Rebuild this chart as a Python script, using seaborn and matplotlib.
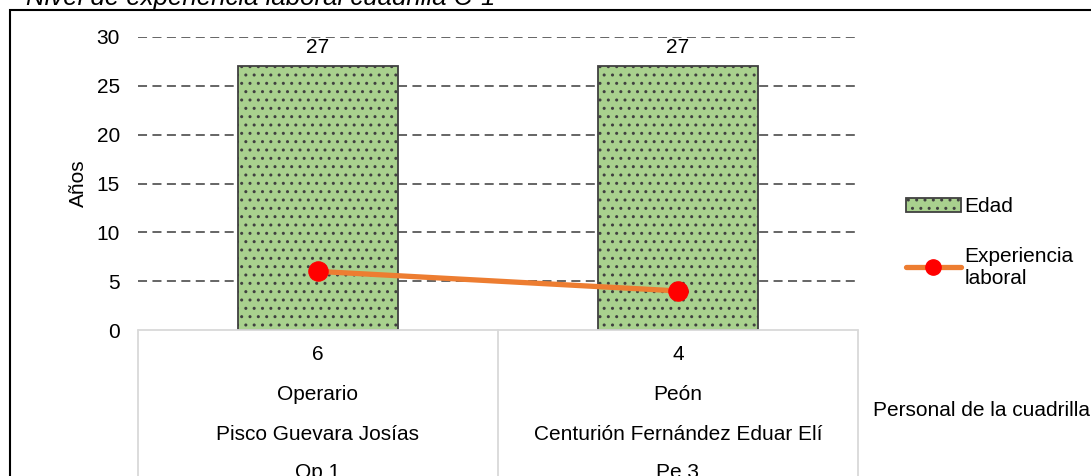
import numpy as np
import pandas as pd
import matplotlib
matplotlib.use("Agg")
import matplotlib.pyplot as plt
import seaborn as sns
from matplotlib.patches import Patch, Rectangle
from matplotlib.lines import Line2D
import matplotlib.transforms as mtransforms

# ---- data ----
codes = ["Op 1", "Pe 3"]
names = ["Pisco Guevara Josías", "Centurión Fernández Eduar Elí"]
roles = ["Operario", "Peón"]
edad = [27, 27]
experiencia = [6, 4]
yticks = [0, 5, 10, 15, 20, 25, 30]
title = "Nivel de experiencia laboral cuadrilla C-1"

sns.set_theme(style="white")
plt.rcParams['font.family'] = ['Liberation Sans', 'DejaVu Sans']
plt.rcParams['text.color'] = 'black'
plt.rcParams['axes.labelcolor'] = 'black'
plt.rcParams['ytick.color'] = 'black'
plt.rcParams['hatch.color'] = 'black'
plt.rcParams['hatch.linewidth'] = 1.0

FS = 15

fig = plt.figure(figsize=(10.91, 4.76), dpi=100)
ax = fig.add_axes([138/1091, 1-330/476, 720/1091, 293/476])

df = pd.DataFrame({"code": codes, "edad": edad, "exp": experiencia})
pos = np.arange(len(codes))

sns.barplot(data=df, x="code", y="edad", ax=ax, color="#A9D18E",
            edgecolor="#404040", linewidth=1.3, width=160/360, saturation=1)
for p in ax.patches:
    p.set_hatch('..')
ax.bar_label(ax.containers[0], labels=[str(v) for v in edad], padding=7,
             fontsize=FS, color="black")

sns.lineplot(x=pos, y=experiencia, ax=ax, color="#ED7D31", linewidth=3.8,
             marker="o", markersize=14, markerfacecolor="red",
             markeredgecolor="red", zorder=5)

ax.set_xlim(-0.5, len(codes) - 0.5)
ax.set_ylim(0, 30)
ax.set_yticks(yticks)
ax.set_yticklabels([str(t) for t in yticks], fontsize=FS)
ax.tick_params(axis='y', length=0, pad=13)
ax.set_xticks([])
ax.set_xlabel("")
ax.set_ylabel("Años", fontsize=FS, labelpad=6)
for s in ax.spines.values():
    s.set_visible(False)
ax.yaxis.grid(True, color="#595959", linestyle=(0, (5, 3)), linewidth=1.3)
ax.set_axisbelow(True)
ax.yaxis.get_gridlines()[0].set_visible(False)

# table-style category axis
trans = mtransforms.blended_transform_factory(ax.transData, ax.transAxes)
ax.plot([-0.5, len(codes) - 0.5], [0, 0], transform=trans, color="#D9D9D9",
        lw=1.3, clip_on=False)
for xv in np.arange(len(codes) + 1) - 0.5:
    ax.plot([xv, xv], [0, -0.6], transform=trans, color="#D9D9D9", lw=1.3,
            clip_on=False)
rows = [[str(v) for v in experiencia], roles, names, codes]
row_y = [-25/293, -64/293, -104/293, -143/293]
for r, yy in zip(rows, row_y):
    for i, t in enumerate(r):
        ax.text(pos[i], yy, t, transform=trans, ha='center', va='center',
                fontsize=FS, clip_on=False)
ax.text((873-138)/720, -80/293, "Personal de la cuadrilla", transform=ax.transAxes,
        ha='left', va='center', fontsize=FS, clip_on=False)

# legend
handles = [Patch(facecolor="#A9D18E", edgecolor="#404040", hatch='..', linewidth=1.3),
           Line2D([0], [0], color="#ED7D31", lw=3.8, marker='o', markersize=11,
                  markerfacecolor='red', markeredgecolor='red')]
fig.legend(handles, ["Edad", "Experiencia\nlaboral"], loc='upper left',
           bbox_to_anchor=(898/1091, 1-189/476), frameon=False, fontsize=FS,
           handlelength=2.6, handletextpad=0.2, labelspacing=1.45,
           borderaxespad=0)

# outer frame and title
fig.patches.append(Rectangle((10/1091, -0.1), 1.2, 1.1 - 10/476,
                             transform=fig.transFigure, fill=False,
                             edgecolor="black", lw=1.5))
fig.text(26/1091, 1-5/476, title, fontsize=18.5, style='italic', ha='left',
         va='baseline')

fig.savefig("out.png", dpi=100)
